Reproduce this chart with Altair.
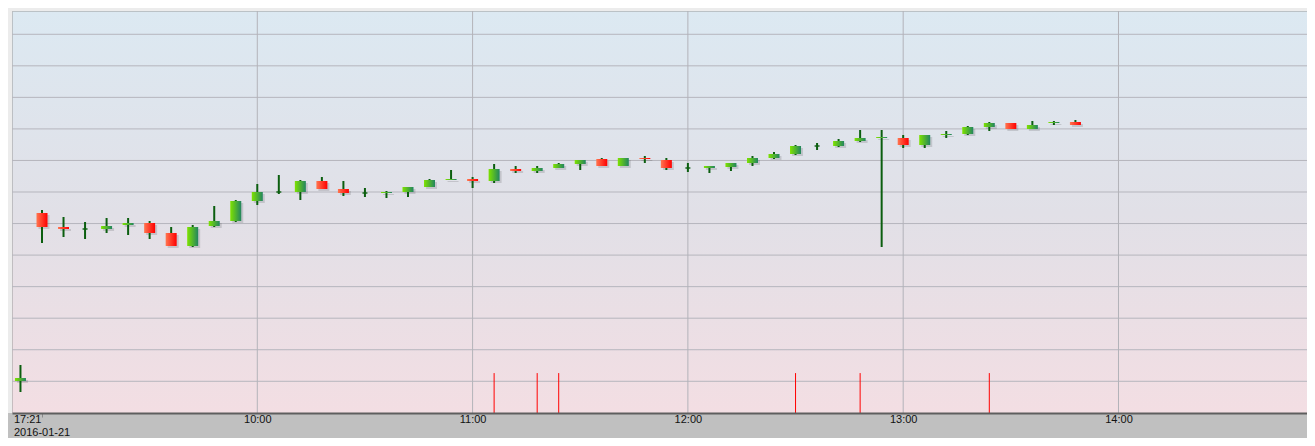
import altair as alt
import pandas as pd

# ---- data (6-minute candles, index 0 = previous close 17:21) ----
idx = list(range(50))
opens = [3000.09, 3053.35, 3048.91, 3048.28, 3048.28, 3049.54, 3050.18, 3047.01, 3042.89, 3049.23,
         3050.81, 3057.15, 3060.01, 3060.01, 3063.49, 3060.96, 3059.69, 3059.69, 3060.01, 3061.59,
         3063.81, 3064.13, 3063.49, 3067.30, 3066.66, 3067.61, 3068.88, 3070.47, 3068.25, 3070.78,
         3070.15, 3067.61, 3067.61, 3067.93, 3069.20, 3070.78, 3072.05, 3074.59, 3074.59, 3076.17,
         3077.12, 3077.12, 3074.90, 3078.07, 3078.39, 3080.61, 3081.88, 3079.98, 3081.88, 3082.20]
highs = [3005.16, 3054.30, 3052.08, 3050.50, 3051.76, 3051.76, 3050.81, 3048.91, 3049.54, 3055.57,
         3057.47, 3062.54, 3065.39, 3063.81, 3064.76, 3063.49, 3061.27, 3060.32, 3061.59, 3064.13,
         3066.98, 3064.76, 3068.88, 3068.25, 3068.25, 3069.20, 3070.15, 3070.78, 3070.78, 3071.42,
         3070.78, 3069.20, 3068.25, 3069.20, 3071.42, 3072.69, 3074.90, 3075.54, 3076.81, 3079.66,
         3079.66, 3078.07, 3078.07, 3079.34, 3080.93, 3082.20, 3081.88, 3082.51, 3082.51, 3082.83]
lows = [2996.61, 3043.84, 3045.74, 3045.11, 3047.01, 3046.37, 3045.11, 3042.89, 3042.57, 3048.91,
        3050.50, 3055.88, 3059.37, 3057.47, 3060.96, 3058.74, 3058.42, 3058.10, 3058.42, 3061.59,
        3063.81, 3061.27, 3062.86, 3066.03, 3066.03, 3067.61, 3066.98, 3068.25, 3068.25, 3069.20,
        3066.98, 3066.35, 3066.03, 3066.66, 3068.25, 3070.47, 3071.73, 3073.32, 3074.27, 3075.86,
        3042.57, 3073.95, 3073.95, 3077.12, 3078.07, 3079.34, 3079.98, 3079.98, 3081.24, 3081.24]
closes = [3001.04, 3048.91, 3048.28, 3048.28, 3049.23, 3050.18, 3047.01, 3042.89, 3048.91, 3050.81,
          3057.15, 3060.01, 3060.01, 3063.49, 3060.96, 3059.69, 3059.69, 3060.01, 3061.59, 3063.81,
          3064.13, 3063.49, 3067.30, 3066.66, 3067.61, 3068.88, 3070.15, 3068.25, 3070.78, 3070.47,
          3067.61, 3067.61, 3068.25, 3069.20, 3070.78, 3072.05, 3074.59, 3074.59, 3076.17, 3077.12,
          3077.44, 3074.90, 3078.07, 3078.39, 3080.61, 3081.88, 3079.98, 3081.24, 3082.20, 3081.24]

grid_prices = [3000, 3010, 3020, 3030, 3040, 3050, 3060, 3070, 3080, 3090, 3100, 3110]
hour_idx = [11, 21, 31, 41, 51]
tick_idx = [0, 1, 11, 21, 31, 41, 51]
tick_labels = [["17:21", "2016-01-21"], "", "10:00", "11:00", "12:00", "13:00", "14:00"]
signal_idx = [22, 24, 25, 36, 39, 45]
signal_top = [3002.6] * len(signal_idx)

X_DOMAIN = [-0.393, 59.756]
Y_DOMAIN = [2989.95, 3117.38]
W, H = 1295, 402
BAND = 25

df = pd.DataFrame(dict(i=idx, open=opens, high=highs, low=lows, close=closes))
df["top"] = df[["open", "close"]].max(axis=1)
df["bot"] = df[["open", "close"]].min(axis=1)
df["dir"] = ["up" if c > o else ("down" if c < o else "doji") for o, c in zip(opens, closes)]

# ---- axis label expression ----
def js(lab):
    if isinstance(lab, list):
        return "[" + ",".join("'%s'" % s for s in lab) + "]"
    return "'%s'" % lab

label_expr = "''"
for v, lab in reversed(list(zip(tick_idx, tick_labels))):
    label_expr = "datum.value == %s ? %s : (%s)" % (v, js(lab), label_expr)

xs = alt.Scale(domain=X_DOMAIN, nice=False, zero=False, padding=0)
ys = alt.Scale(domain=Y_DOMAIN, nice=False, zero=False, padding=0)
xaxis = alt.Axis(
    values=tick_idx, labelExpr=label_expr, title=None, grid=False,
    ticks=True, tickSize=4, tickColor={"expr": "datum.value == 1 ? '#8a8a8a' : 'transparent'"},
    labelAlign={"expr": "datum.value == 0 ? 'left' : 'center'"},
    labelOffset={"expr": "datum.value == 0 ? -7 : 0"},
    labelBaseline="top", labelPadding=-4, labelLineHeight=13,
    labelFont="Liberation Sans", labelFontSize=11, labelColor="#111111",
    labelOverlap=False, labelBound=False, labelFlush=False,
    domainColor="#5e5e5e", domainWidth=2, zindex=1,
)

def X(f):
    return alt.X(f, type="quantitative", scale=xs, axis=xaxis)

def Y(f):
    return alt.Y(f, type="quantitative", scale=ys, axis=None)

one = pd.DataFrame({"z": [0]})

bg = alt.Chart(one).mark_rect(
    color=alt.LinearGradient(
        gradient="linear", x1=0, x2=0, y1=0, y2=1,
        stops=[alt.GradientStop(color="#dce9f2", offset=0),
               alt.GradientStop(color="#e1e0e7", offset=0.5),
               alt.GradientStop(color="#f3dee3", offset=1)]),
).encode(x=alt.value(0.5), x2=alt.value(W), y=alt.value(0.5), y2=alt.value(H))

band = alt.Chart(one).mark_rect(color="#c0c0c0").encode(
    x=alt.value(-4), x2=alt.value(W), y=alt.value(H), y2=alt.value(H + BAND))

hgrid = alt.Chart(pd.DataFrame({"v": grid_prices})).mark_rule(
    color="#b5b5bd", strokeWidth=1).encode(y=Y("v"))
vgrid = alt.Chart(pd.DataFrame({"v": hour_idx})).mark_rule(
    color="#b3b3b9", strokeWidth=1).encode(x=X("v"))

signals = alt.Chart(pd.DataFrame({"i": signal_idx, "t": signal_top})).mark_rule(
    color="#ff0000", strokeWidth=1).encode(x=X("i"), y=Y("t"), y2=alt.value(H))

base = alt.Chart(df)
bodies = base.transform_filter("datum.dir != 'doji'")
shadow = bodies.mark_bar(size=11, color="#000000", opacity=0.13,
                         xOffset=2, yOffset=2, y2Offset=2).encode(
    x=X("i"), y=Y("top"), y2=alt.Y2("bot"))
wick = base.mark_rule(color="#0b5e0f", strokeWidth=2).encode(
    x=X("i"), y=Y("high"), y2=alt.Y2("low"))
up = base.transform_filter("datum.dir == 'up'").mark_bar(
    size=11,
    color=alt.LinearGradient(
        gradient="linear", x1=0, x2=1, y1=0, y2=0,
        stops=[alt.GradientStop(color="#7ee200", offset=0),
               alt.GradientStop(color="#22855f", offset=1)]),
).encode(x=X("i"), y=Y("top"), y2=alt.Y2("bot"))
down = base.transform_filter("datum.dir == 'down'").mark_bar(
    size=11,
    color=alt.LinearGradient(
        gradient="linear", x1=0, x2=1, y1=0, y2=0,
        stops=[alt.GradientStop(color="#ff7650", offset=0),
               alt.GradientStop(color="#ff0000", offset=1)]),
).encode(x=X("i"), y=Y("top"), y2=alt.Y2("bot"))
doji = base.transform_filter("datum.dir == 'doji'").mark_tick(
    orient="horizontal", size=5, thickness=2, color="#0b5e0f").encode(
    x=X("i"), y=Y("open"))

chart = alt.layer(bg, band, hgrid, vgrid, signals, shadow, wick, up, down, doji).properties(
    width=W, height=H,
    padding={"left": 4, "top": 3, "right": 0, "bottom": BAND},
    autosize=alt.AutoSizeParams(type="none"),
    background="#ececec",
).configure_view(stroke="#9a9a9a", strokeWidth=1)

chart.save("out.html", embed_options={"renderer": "svg", "actions": False})
